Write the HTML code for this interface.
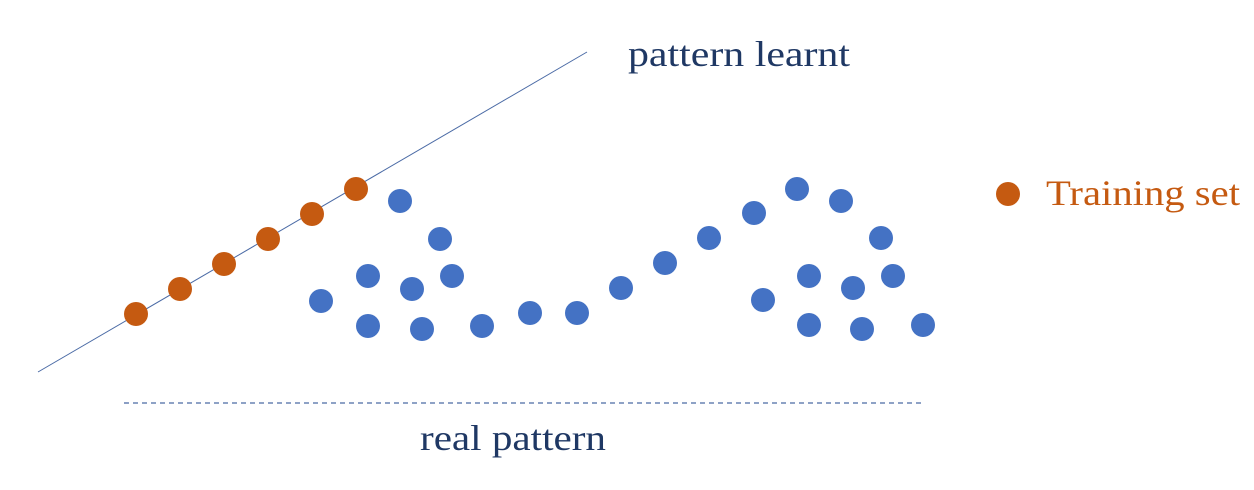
<!DOCTYPE html>
<html><head><meta charset="utf-8"><style>
html,body{margin:0;padding:0;background:#fff;}
svg{display:block;}
text{font-family:"Liberation Serif",serif;}
</style></head><body>
<svg width="1254" height="490" viewBox="0 0 1254 490" xmlns="http://www.w3.org/2000/svg">
<line x1="38" y1="372" x2="587" y2="52" stroke="#4a6aa5" stroke-width="1"/>
<line x1="124" y1="403" x2="924" y2="403" stroke="#4a6aa5" stroke-width="1.3" stroke-dasharray="5,4"/>
<g fill="#C55A11">
<circle cx="136" cy="314" r="12"/><circle cx="180" cy="289" r="12"/><circle cx="224" cy="264" r="12"/>
<circle cx="268" cy="239" r="12"/><circle cx="312" cy="214" r="12"/><circle cx="356" cy="189" r="12"/>
<circle cx="1008" cy="194" r="12"/>
</g>
<g fill="#4472C4">
<circle cx="400" cy="201" r="12"/><circle cx="440" cy="239" r="12"/><circle cx="368" cy="276" r="12"/>
<circle cx="412" cy="289" r="12"/><circle cx="452" cy="276" r="12"/><circle cx="321" cy="301" r="12"/>
<circle cx="368" cy="326" r="12"/><circle cx="422" cy="329" r="12"/><circle cx="482" cy="326" r="12"/>
<circle cx="530" cy="313" r="12"/><circle cx="577" cy="313" r="12"/><circle cx="621" cy="288" r="12"/>
<circle cx="665" cy="263" r="12"/><circle cx="709" cy="238" r="12"/><circle cx="754" cy="213" r="12"/>
<circle cx="797" cy="189" r="12"/><circle cx="841" cy="201" r="12"/><circle cx="881" cy="238" r="12"/>
<circle cx="809" cy="276" r="12"/><circle cx="853" cy="288" r="12"/><circle cx="893" cy="276" r="12"/>
<circle cx="763" cy="300" r="12"/><circle cx="809" cy="325" r="12"/><circle cx="862" cy="329" r="12"/>
<circle cx="923" cy="325" r="12"/>
</g>
<text x="628" y="66" font-size="36" fill="#1F3864" textLength="222" lengthAdjust="spacingAndGlyphs">pattern learnt</text>
<text x="420" y="450" font-size="36" fill="#1F3864" textLength="186" lengthAdjust="spacingAndGlyphs">real pattern</text>
<text x="1046" y="205" font-size="36" fill="#C55A11" textLength="194" lengthAdjust="spacingAndGlyphs">Training set</text>
</svg>
</body></html>
